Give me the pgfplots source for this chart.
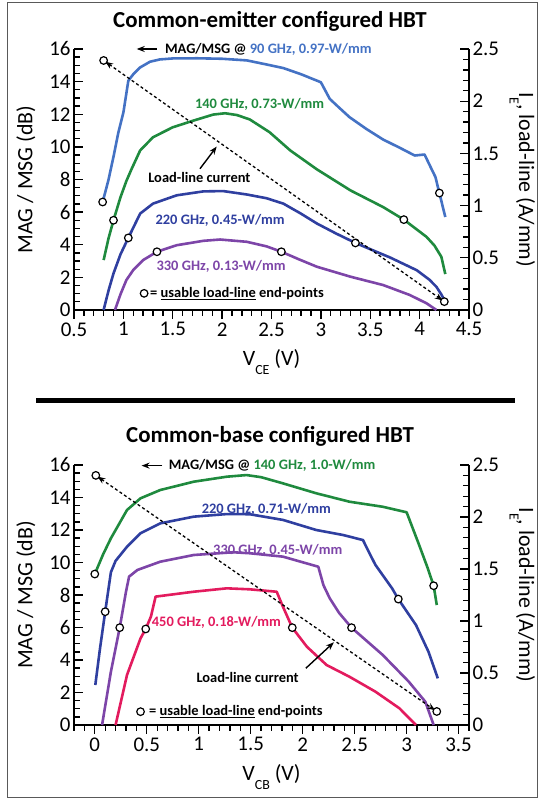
\documentclass[border=0pt]{standalone}
\usepackage{fontspec}
\setmainfont{Carlito}
\usepackage{pgfplots}
\pgfplotsset{compat=1.18}
\usetikzlibrary{arrows.meta}

\definecolor{cA}{HTML}{4472C4}
\definecolor{cG}{HTML}{1F8A3E}
\definecolor{cB}{HTML}{2F3FA0}
\definecolor{cP}{HTML}{7D45A8}
\definecolor{cR}{HTML}{E31B5E}

\newcommand\ann{\bfseries\fontsize{14.5}{15}\selectfont}
\newcommand\sub[1]{\raisebox{-9.5bp}{\fontsize{14}{14}\selectfont #1}}

\tikzset{pointer/.style={-{Stealth[length=8bp,width=6bp]}, line width=1.4bp}}
\pgfplotsset{
  base/.style={
    scale only axis, width=395bp, height=261bp, clip=false,
    /pgf/number format/assume math mode=true,
    ticklabel style={font=\fontsize{21}{21}\selectfont},
    label style={font=\fontsize{22}{22}\selectfont},
    axis line style={-, line width=1.5bp},
    major tick length=9bp, minor tick length=6bp,
    tick style={black, line width=1.3bp},
  },
  leftax/.style={
    xlabel style={yshift=-6bp},
    ylabel style={at={(axis description cs:-0.122,0.5)}, anchor=center},
  },
  rightax/.style={
    ylabel style={rotate=180, at={(axis description cs:1.135,0.5)}, anchor=center},
  },
  curve/.style={line width=2.6bp, line join=round, mark=none},
  ends/.style={only marks, mark=*, mark size=3.8bp, mark options={fill=white, draw=black, line width=1.2bp}},
  lload/.style={black, line width=1.3bp, dash pattern=on 3bp off 2.5bp,
    {Stealth[length=8bp,width=6bp]}-{Stealth[length=8bp,width=6bp]}, shorten <=2bp, shorten >=2bp},
}

\begin{document}
\begin{tikzpicture}[x=1bp,y=1bp]
\useasboundingbox (0,0) rectangle (539,799);
\draw[line width=0.8bp, black!65] (7,2) rectangle (537,797);
\draw[line width=5bp] (36,398) -- (515,398);
\node[font=\bfseries\fontsize{23}{23}\selectfont] at (270,778) {Common-emitter configured HBT};
\node[font=\bfseries\fontsize{23}{23}\selectfont] at (270,363) {Common-base configured HBT};

% ---------------- Top panel: left axis
\begin{axis}[base, leftax, at={(74bp,489bp)}, anchor=south west,
  xmin=0.5, xmax=4.5, ymin=0, ymax=16,
  axis x line*=bottom, axis y line*=left,
  xtick={0.5,1,1.5,2,2.5,3,3.5,4,4.5}, minor xtick={0.5,0.6,...,4.5},
  ytick={0,2,...,16}, minor ytick={0,0.5,...,16},
  xtick align=outside, ytick align=inside,
  xlabel={V\sub{CE} (V)}, ylabel={MAG / MSG (dB)}]
\addplot[curve, cA] coordinates {(0.79,6.62)(0.82,7.3)(0.85,8.0)(0.90,9.4)(0.95,10.9)(1.00,12.1)(1.05,14.05)(1.10,14.45)(1.17,14.87)(1.27,15.22)(1.37,15.36)(1.5,15.42)(1.75,15.43)(2.0,15.4)(2.25,15.3)(2.45,15.05)(2.62,14.83)(2.8,14.45)(3.0,13.96)(3.09,12.94)(3.18,12.43)(3.29,11.82)(3.46,11.1)(3.63,10.45)(3.80,9.94)(3.95,9.47)(4.05,9.53)(4.1,8.9)(4.16,8.15)(4.2,7.17)(4.26,5.7)};
\addplot[curve, cG] coordinates {(0.80,3.06)(0.85,4.4)(0.90,5.5)(0.97,6.9)(1.03,7.9)(1.08,8.6)(1.17,9.78)(1.30,10.59)(1.5,11.2)(1.71,11.61)(1.91,11.98)(2.03,12.06)(2.15,11.95)(2.28,11.68)(2.48,10.9)(2.69,9.78)(2.96,8.62)(3.3,7.33)(3.63,6.31)(3.84,5.54)(4.07,4.48)(4.15,3.95)(4.22,3.26)(4.26,2.2)};
\addplot[curve, cB] coordinates {(0.80,0)(0.85,1.2)(0.9,2.24)(0.97,3.4)(1.05,4.42)(1.17,5.91)(1.30,6.52)(1.54,7.03)(1.81,7.27)(2.01,7.29)(2.25,7.08)(2.45,6.85)(2.62,6.52)(2.8,5.9)(2.96,5.3)(3.15,4.7)(3.35,4.11)(3.55,3.6)(3.70,3.22)(3.97,2.44)(4.1,1.85)(4.17,1.42)(4.22,0.95)(4.26,0.5)};
\addplot[curve, cP] coordinates {(0.915,0)(0.97,0.95)(1.03,1.83)(1.1,2.45)(1.2,3.06)(1.34,3.57)(1.54,3.97)(1.81,4.24)(1.98,4.32)(2.25,4.18)(2.45,3.9)(2.6,3.57)(2.78,3.1)(2.96,2.65)(3.3,2.04)(3.63,1.53)(3.9,0.92)(4.07,0.41)(4.17,0)};
\addplot[ends] coordinates {(0.79,6.62)(4.2,7.17)(0.90,5.5)(3.84,5.54)(1.05,4.42)(3.35,4.11)(1.34,3.57)(2.6,3.57)(1.21,1.02)};
\draw[pointer] (axis cs:1.34,16.0) -- (axis cs:1.135,16.0);
\node[anchor=west, font=\ann, inner sep=0pt] at (axis cs:1.42,16.0) {MAG/MSG @ \textcolor{cA}{90 GHz, 0.97-W/mm}};
\node[font=\ann, text=cG] at (axis cs:2.38,12.63) {140 GHz, 0.73-W/mm};
\node[font=\ann] at (axis cs:1.77,8.15) {Load-line current};
\draw[pointer] (axis cs:1.776,8.66) -- (axis cs:1.945,10.02);
\node[font=\ann, text=cB] at (axis cs:1.98,5.5) {220 GHz, 0.45-W/mm};
\node[font=\ann, text=cP] at (axis cs:1.99,2.65) {330 GHz, 0.13-W/mm};
\node[anchor=west, font=\ann, inner sep=0pt] at (axis cs:1.27,1.02) {= \underline{usable load-line} end-points};
\end{axis}

% ---------------- Top panel: right axis
\begin{axis}[base, rightax, at={(74bp,489bp)}, anchor=south west,
  xmin=0.5, xmax=4.5, ymin=0, ymax=2.5,
  axis y line*=right, axis x line=none,
  ytick={0,0.5,1,1.5,2,2.5}, minor ytick={0,0.1,...,2.5},
  ytick align=inside,
  ylabel={I\sub{E}, load-line (A/mm)}]
\addplot[lload] coordinates {(0.80,2.39)(4.25,0.08)};
\addplot[ends] coordinates {(0.80,2.39)(4.25,0.08)};
\end{axis}

% ---------------- Bottom panel: left axis
\begin{axis}[base, leftax, at={(74bp,74bp)}, anchor=south west, height=260bp,
  xmin=-0.2, xmax=3.6, ymin=0, ymax=16,
  axis x line*=bottom, axis y line*=left,
  xtick={0,0.5,1,1.5,2,2.5,3,3.5}, minor xtick={-0.2,-0.1,...,3.6},
  ytick={0,2,...,16}, minor ytick={0,0.5,...,16},
  xtick align=outside, ytick align=inside,
  xlabel={V\sub{CB} (V)}, ylabel={MAG / MSG (dB)}]
\addplot[curve, cG] coordinates {(0.0,9.29)(0.08,10.5)(0.155,11.49)(0.31,13.23)(0.44,13.95)(0.63,14.46)(0.95,14.97)(1.27,15.28)(1.46,15.38)(1.6,15.25)(1.81,14.87)(2.13,14.26)(2.45,13.74)(2.77,13.43)(3.0,13.09)(3.12,11.08)(3.2,9.7)(3.26,8.57)(3.29,7.38)};
\addplot[curve, cB] coordinates {(0.005,2.46)(0.05,4.7)(0.10,6.97)(0.155,9.4)(0.2,10.1)(0.31,10.97)(0.44,11.8)(0.63,12.41)(0.95,12.82)(1.27,12.98)(1.49,12.97)(1.81,12.62)(2.13,12.0)(2.39,11.69)(2.58,11.38)(2.64,10.6)(2.70,9.85)(2.86,8.41)(2.92,7.75)(3.09,6.15)(3.21,4.51)(3.30,2.87)};
\addplot[curve, cP] coordinates {(0.07,0)(0.155,3.28)(0.24,5.99)(0.30,8.2)(0.33,9.13)(0.41,9.54)(0.63,10.05)(0.95,10.46)(1.33,10.63)(1.49,10.57)(1.81,10.36)(2.15,9.74)(2.2,8.6)(2.26,7.8)(2.35,6.9)(2.47,5.99)(2.77,4.31)(3.02,2.67)(3.18,1.43)(3.26,0)};
\addplot[curve, cR] coordinates {(0.20,0)(0.31,3.08)(0.44,5.33)(0.49,5.91)(0.54,6.67)(0.585,7.9)(0.95,8.2)(1.27,8.41)(1.49,8.35)(1.75,8.2)(1.81,7.28)(1.90,5.99)(2.04,4.82)(2.23,3.69)(2.45,2.97)(2.70,2.05)(2.93,1.03)(3.09,0)};
\addplot[ends] coordinates {(0.0,9.29)(3.26,8.57)(0.10,6.97)(2.92,7.75)(0.24,5.99)(2.47,5.99)(0.49,5.91)(1.90,5.99)(0.44,0.82)};
\draw[pointer] (axis cs:0.65,15.96) -- (axis cs:0.45,15.96);
\node[anchor=west, font=\ann, inner sep=0pt] at (axis cs:0.71,15.96) {MAG/MSG @ \textcolor{cG}{140 GHz, 1.0-W/mm}};
\node[font=\ann, text=cB] at (axis cs:1.65,13.29) {220 GHz, 0.71-W/mm};
\node[font=\ann, text=cP] at (axis cs:1.76,10.77) {330 GHz, 0.45-W/mm};
\node[font=\ann, text=cR] at (axis cs:1.17,6.3) {450 GHz, 0.18-W/mm};
\node[font=\ann] at (axis cs:1.47,2.9) {Load-line current};
\draw[pointer] (axis cs:2.03,3.49) -- (axis cs:2.30,5.09);
\node[anchor=west, font=\ann, inner sep=0pt] at (axis cs:0.52,0.82) {= \underline{usable load-line} end-points};
\end{axis}

% ---------------- Bottom panel: right axis
\begin{axis}[base, rightax, at={(74bp,74bp)}, anchor=south west, height=260bp,
  xmin=-0.2, xmax=3.6, ymin=0, ymax=2.5,
  axis y line*=right, axis x line=none,
  ytick={0,0.5,1,1.5,2,2.5}, minor ytick={0,0.1,...,2.5},
  ytick align=inside,
  ylabel={I\sub{E}, load-line (A/mm)}]
\addplot[lload] coordinates {(0.01,2.40)(3.29,0.13)};
\addplot[ends] coordinates {(0.01,2.40)(3.29,0.13)};
\end{axis}
\end{tikzpicture}
\end{document}
